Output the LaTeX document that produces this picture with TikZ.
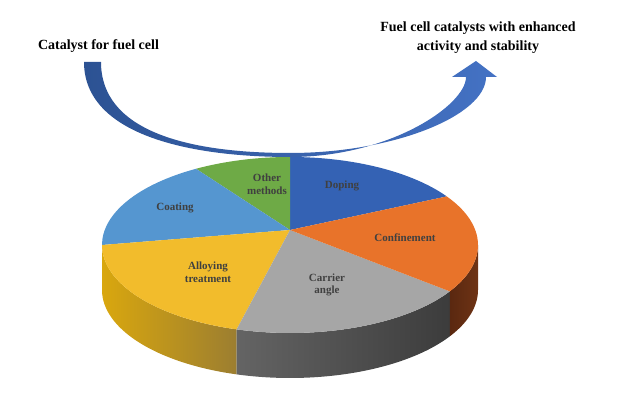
\documentclass[tikz,border=0pt]{standalone}
\usepackage{fontspec}
\setmainfont{Liberation Serif}
\definecolor{dopingblue}{HTML}{3462B4}
\definecolor{othergreen}{HTML}{6EAA46}
\definecolor{coatingblue}{HTML}{5596D0}
\definecolor{alloyyellow}{HTML}{F2BC2C}
\definecolor{carriergray}{HTML}{A6A6A6}
\definecolor{confineorange}{HTML}{E8732A}
\definecolor{sideyellowA}{HTML}{D9A70E}
\definecolor{sideyellowB}{HTML}{9C7E30}
\definecolor{sidegrayA}{HTML}{646464}
\definecolor{sidegrayB}{HTML}{3C3C3C}
\definecolor{sidebrownA}{HTML}{6E3315}
\definecolor{sidebrownB}{HTML}{5A2810}
\definecolor{arrowA}{HTML}{2C5293}
\definecolor{arrowB}{HTML}{4472C4}
\definecolor{labelgray}{HTML}{404040}
\begin{document}
\begin{tikzpicture}[x=1pt,y=1pt,
    lbl/.style={font=\bfseries\fontsize{11}{12.5}\selectfont, text=labelgray, align=center},
    heading/.style={font=\bfseries\fontsize{14}{19}\selectfont, align=center}]
\useasboundingbox (0,0) rectangle (622,395);
\begin{scope}[shift={(290,150)}, x radius=188pt, y radius=88pt]
    \coordinate (apex) at (0,15);
    \shade[left color=sideyellowA, right color=sideyellowB] (180:188pt and 88pt) arc[start angle=180, end angle=253.5] -- ++(0,-45) arc[start angle=253.5, end angle=180] -- cycle;
    \shade[left color=sidegrayA, right color=sidegrayB] (253.5:188pt and 88pt) arc[start angle=253.5, end angle=328.2] -- ++(0,-45) arc[start angle=328.2, end angle=253.5] -- cycle;
    \shade[left color=sidebrownB, right color=sidebrownA] (328.2:188pt and 88pt) arc[start angle=328.2, end angle=360] -- ++(0,-45) arc[start angle=360, end angle=328.2] -- cycle;
    \foreach \a/\b/\c in {33.5/90/dopingblue, 90/120/othergreen, 120/180/coatingblue,
        180/253.5/alloyyellow, 253.5/328.2/carriergray, 328.2/393.5/confineorange}
        \fill[\c] (apex) -- (\a:188pt and 88pt) arc[start angle=\a, end angle=\b] -- cycle;
\end{scope}
\node[lbl] (doping) at (342,209) {Doping};
\node[lbl] (other) at (267,211) {Other\\methods};
\node[lbl] (coating) at (175,187) {Coating};
\node[lbl] (confine) at (405,157) {Confinement};
\node[lbl] (alloy) at (208,123) {Alloying\\treatment};
\node[lbl] (carrier) at (327,110) {Carrier\\angle};
\node[heading] (start) at (98.5,349) {Catalyst for fuel cell};
\node[heading] (goal) at (478,357.5) {Fuel cell catalysts with enhanced\\activity and stability};
\shade[left color=arrowA, right color=arrowB] (84,333) .. controls (84,260) and (190,238) .. (290,238)
    .. controls (390,238) and (466,290) .. (466,318) -- (452,318) -- (476,334) -- (497,318) -- (486,318)
    .. controls (486,280) and (395,242) .. (290,242) .. controls (185,242) and (101,265) .. (101,333) -- cycle;
\end{tikzpicture}
\end{document}
